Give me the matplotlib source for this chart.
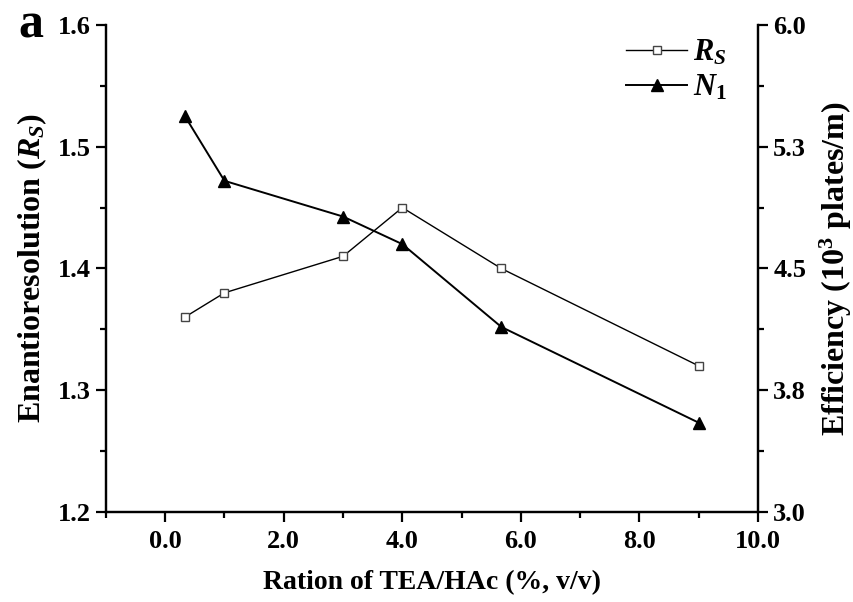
import matplotlib
matplotlib.use("Agg")
import matplotlib.pyplot as plt
from matplotlib.ticker import MultipleLocator, FixedLocator, FixedFormatter

plt.rcParams['font.family'] = 'Liberation Serif'
plt.rcParams['font.weight'] = 'bold'
plt.rcParams['mathtext.fontset'] = 'custom'
plt.rcParams['mathtext.rm'] = 'Liberation Serif:bold'
plt.rcParams['mathtext.it'] = 'Liberation Serif:italic:bold'
plt.rcParams['mathtext.bf'] = 'Liberation Serif:bold'

# TEA/HAc ratio (%, v/v)
ratio = [0.33, 1.0, 3.0, 4.0, 5.67, 9.0]
# enantioresolution
rs = [1.36, 1.38, 1.41, 1.45, 1.40, 1.32]
# column efficiency, 10^3 plates/m
n1 = [5.44, 5.04, 4.82, 4.65, 4.14, 3.55]

right_ticks = [3.0, 3.75, 4.5, 5.25, 6.0]
right_labels = ['3.0', '3.8', '4.5', '5.3', '6.0']

fig = plt.figure(figsize=(8.54, 6.02), dpi=100)
ax = fig.add_axes([0.124, 0.1495, 0.7636, 0.809])
ax2 = ax.twinx()

l1, = ax.plot(ratio, rs, color='black', lw=1.0, marker='s', ms=6,
              mfc='white', mec='#444444', mew=1.0, label='$R_S$')
l2, = ax2.plot(ratio, n1, color='black', lw=1.4, marker='^', ms=9,
               mfc='black', mec='black', label='$N_1$')

ax.set_xlim(-1, 10)
ax.set_ylim(1.2, 1.6)
ax2.set_ylim(3.0, 6.0)

ax.xaxis.set_major_locator(MultipleLocator(2))
ax.xaxis.set_minor_locator(MultipleLocator(1))
ax.xaxis.set_major_formatter(plt.FuncFormatter(lambda v, p: f'{v:.1f}'))
ax.yaxis.set_major_locator(MultipleLocator(0.1))
ax.yaxis.set_minor_locator(MultipleLocator(0.05))
ax.yaxis.set_major_formatter(plt.FuncFormatter(lambda v, p: f'{v:.1f}'))
ax2.yaxis.set_major_locator(FixedLocator(right_ticks))
ax2.yaxis.set_major_formatter(FixedFormatter(right_labels))
ax2.yaxis.set_minor_locator(MultipleLocator(0.375))

for a in (ax, ax2):
    a.spines['top'].set_visible(False)
    for s in a.spines.values():
        s.set_linewidth(1.6)
    a.tick_params(which='major', direction='out', length=7, width=1.6,
                  labelsize=19, pad=4)
    a.tick_params(which='minor', direction='out', length=4, width=1.6)
ax.tick_params(axis='x', pad=6)

ax.set_xlabel('Ration of TEA/HAc (%, v/v)', fontsize=20, fontweight='bold',
              labelpad=12)
ax.set_ylabel('Enantioresolution ($R_S$)', fontsize=23, fontweight='bold',
              labelpad=6)
ax2.set_ylabel('Efficiency (10$^{3}$ plates/m)', fontsize=23,
               fontweight='bold', labelpad=8)

ax.legend(handles=[l1, l2], loc='upper right', bbox_to_anchor=(0.995, 1.03),
          frameon=False, fontsize=22, handlelength=2.0, handletextpad=0.2,
          labelspacing=0.2)

fig.text(0.022, 0.958, 'a', fontsize=36, fontweight='bold', va='center')

fig.savefig('out.png', dpi=100)
